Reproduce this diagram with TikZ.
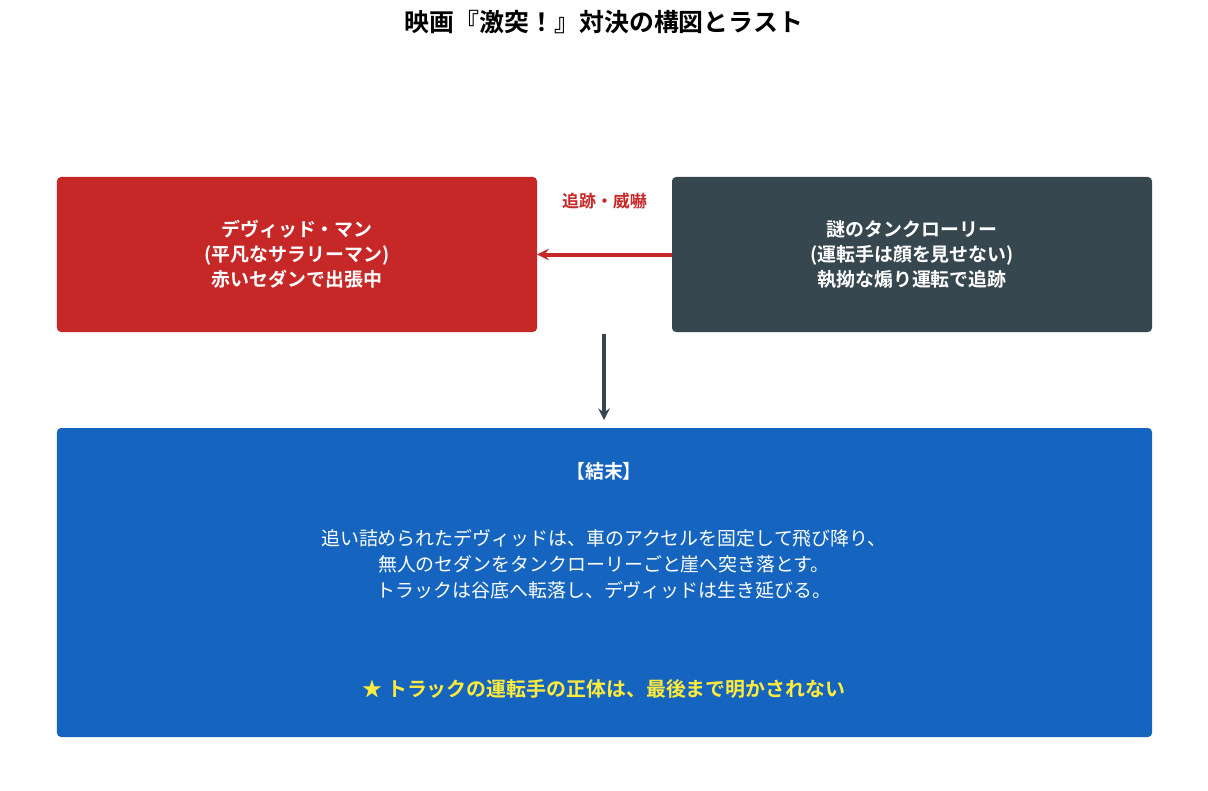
\documentclass[tikz,border=0pt]{standalone}
\usepackage{fontspec}
\setmainfont{Noto Sans CJK JP}
\newfontfamily\cjkbold{Noto Sans CJK JP Bold}
\usetikzlibrary{positioning}
\definecolor{davidred}{HTML}{C62828}
\definecolor{truckgray}{HTML}{37474F}
\definecolor{endblue}{HTML}{1565C0}
\definecolor{staryellow}{HTML}{FFEB3B}
\begin{document}
\begin{tikzpicture}[x=1bp, y=-1bp]
    \useasboundingbox (0,0) rectangle (1208,791);
    \begin{scope}[%
        every node/.style = {%
            rounded corners = 4bp,
            text = white,
            align = center,
            inner sep = 0pt
        }
    ]

        % Boxes of the diagram.
        \node[fill = davidred, minimum width = 480bp, minimum height = 155bp,
              font = \cjkbold\fontsize{19}{25}\selectfont] (david) at (297, 254.5)
            {デヴィッド・マン\\(平凡なサラリーマン)\\赤いセダンで出張中};
        \node[fill = truckgray, minimum width = 480bp, minimum height = 155bp,
              font = \cjkbold\fontsize{19}{25}\selectfont] (truck) at (912, 254.5)
            {謎のタンクローリー\\(運転手は顔を見せない)\\執拗な煽り運転で追跡};
        \node[fill = endblue, minimum width = 1095bp, minimum height = 309bp] (ending) at (604.5, 582.5) {};
    \end{scope}

    % Texts.
    \node[font = \cjkbold\fontsize{25}{30}\selectfont] (title) at (604, 22) {映画『激突！』対決の構図とラスト};
    \node[font = \cjkbold\fontsize{19}{24}\selectfont, text = white] (head) at (604, 471) {【結末】};
    \node[font = \fontsize{19}{26}\selectfont, text = white, align = center] (story) at (604, 564)
        {追い詰められたデヴィッドは、車のアクセルを固定して飛び降り、\\無人のセダンをタンクローリーごと崖へ突き落とす。\\トラックは谷底へ転落し、デヴィッドは生き延びる。};
    \node[font = \cjkbold\fontsize{20}{24}\selectfont, text = staryellow] (secret) at (604, 689)
        {★ トラックの運転手の正体は、最後まで明かされない};

    % Connectors.
    \coordinate (split) at (604, 334);
    \coordinate (drop) at (604, 420);
    \draw[davidred, line width = 4bp, -stealth] (truck.west) -- (david.east)
        node[midway, above = 40bp, font = \cjkbold\fontsize{17}{20}\selectfont, text = davidred] {追跡・威嚇};
    \draw[truckgray, line width = 4bp, -stealth] (split) -- (drop);
\end{tikzpicture}
\end{document}
